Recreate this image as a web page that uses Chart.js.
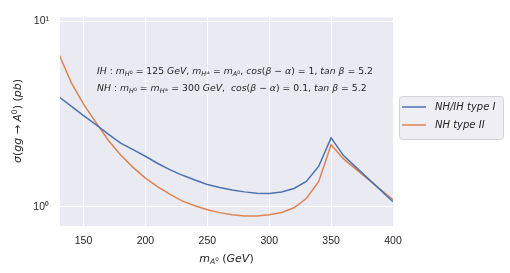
<!DOCTYPE html>
<html><head><meta charset="utf-8">
<script src="https://cdn.jsdelivr.net/npm/chart.js@4/dist/chart.umd.min.js"></script>
<style>html,body{margin:0;padding:0;background:#fff}#wrap{width:510px;height:273px}</style>
</head><body><div id="wrap"><canvas id="c" width="510" height="273"></canvas></div>
<script>
// ---- data ----
const massA  = [130,140,150,160,170,180,190,200,210,220,230,240,250,260,270,280,290,300,310,320,330,340,350,360,370,380,390,400];
const typeI  = [3.92,3.48,3.10,2.77,2.46,2.20,2.03,1.87,1.71,1.58,1.476,1.393,1.318,1.268,1.230,1.202,1.183,1.178,1.20,1.254,1.369,1.653,2.35,1.886,1.635,1.417,1.228,1.064];
const typeII = [6.67,4.68,3.57,2.85,2.28,1.90,1.63,1.425,1.28,1.164,1.072,1.012,0.964,0.929,0.906,0.891,0.891,0.904,0.931,0.987,1.107,1.369,2.16,1.81,1.595,1.405,1.238,1.09];
const seriesNames = ['NH/IH type I','NH type II'];
const xTicks = [150,200,250,300,350,400];
const yTicks = [1,10];
const yTickLabels = ['10\u2070','10\u00B9'];

const TXT = '#262626';
const MATH = '"DejaVu Sans"';

// rich text: segments [text, level]; 0 normal, 1 subscript, 2 sup on subscript, 3 superscript
function drawRich(ctx, segs, x, y, s, measureOnly){
  let cx = x;
  for (const [t, lvl] of segs){
    const size = [s, s*0.7, s*0.5, s*0.7][lvl];
    const dy = [0, s*0.22, -s*0.05, -s*0.38][lvl];
    let runs = []; let cur = ''; let curIt = null;
    for (const ch of t){
      const it = /[A-Za-z\u03B1-\u03C9]/.test(ch);
      if (curIt===null || it===curIt || ch===' '){ cur += ch; if(curIt===null && ch!==' ') curIt = it; }
      else { runs.push([cur, curIt]); cur = ch; curIt = it; }
    }
    if (cur) runs.push([cur, curIt]);
    for (const [r, it] of runs){
      ctx.font = (it ? 'italic ' : '') + size + 'px ' + MATH;
      if (!measureOnly) ctx.fillText(r, cx, y + dy);
      cx += ctx.measureText(r).width;
    }
  }
  return cx - x;
}

const line1 = [['IH : m',0],['H',1],['0',2],[' = 125 GeV, m',0],['H',1],['\u00B1',2],[' = m',0],['A',1],['0',2],[', cos(\u03B2 \u2212 \u03B1) = 1, tan \u03B2 = 5.2',0]];
const line2 = [['NH : m',0],['H',1],['0',2],[' = m',0],['H',1],['\u00B1',2],[' = 300 GeV,  cos(\u03B2 \u2212 \u03B1) = 0.1, tan \u03B2 = 5.2',0]];
const xTitle = [['m',0],['A',1],['0',2],[' (GeV)',0]];
const yTitle = [['\u03C3(gg \u2192 A',0],['0',3],[') (pb)',0]];

const decor = {
  id:'decor',
  beforeDraw(chart){
    const {ctx, chartArea:a} = chart;
    ctx.save();
    ctx.fillStyle = '#eaeaf2';
    ctx.fillRect(a.left, a.top, a.right-a.left, a.bottom-a.top);
    ctx.restore();
  },
  afterDraw(chart){
    const {ctx, chartArea:a} = chart;
    ctx.save();
    ctx.fillStyle = TXT;
    ctx.textBaseline = 'alphabetic';
    drawRich(ctx, line1, 97, 74, 9.3);
    drawRich(ctx, line2, 97, 91, 9.3);
    const wx = drawRich(ctx, xTitle, 0, 0, 11, true);
    drawRich(ctx, xTitle, (a.left+a.right)/2 - wx/2, 262, 11);
    const wy = drawRich(ctx, yTitle, 0, 0, 11, true);
    ctx.translate(21, 121);
    ctx.rotate(-Math.PI/2);
    drawRich(ctx, yTitle, -wy/2, 0, 11);
    ctx.restore();
    // legend
    ctx.save();
    const lx = 399.5, ly = 96.5, lw = 104, lh = 43, r = 3;
    ctx.beginPath();
    ctx.moveTo(lx+r, ly); ctx.lineTo(lx+lw-r, ly); ctx.quadraticCurveTo(lx+lw, ly, lx+lw, ly+r);
    ctx.lineTo(lx+lw, ly+lh-r); ctx.quadraticCurveTo(lx+lw, ly+lh, lx+lw-r, ly+lh);
    ctx.lineTo(lx+r, ly+lh); ctx.quadraticCurveTo(lx, ly+lh, lx, ly+lh-r);
    ctx.lineTo(lx, ly+r); ctx.quadraticCurveTo(lx, ly, lx+r, ly); ctx.closePath();
    ctx.fillStyle = '#eeeef4'; ctx.fill();
    ctx.strokeStyle = '#d4d4d8'; ctx.lineWidth = 1; ctx.stroke();
    chart.data.datasets.forEach((ds, i) => {
      const yy = 107 + i*18;
      ctx.strokeStyle = ds.borderColor; ctx.lineWidth = 1.5;
      ctx.beginPath(); ctx.moveTo(402, yy); ctx.lineTo(426, yy); ctx.stroke();
      ctx.fillStyle = TXT;
      ctx.font = 'italic 10px ' + MATH;
      ctx.textBaseline = 'middle';
      ctx.fillText(ds.label, 435, yy);
    });
    ctx.restore();
  }
};

const tickFont = {family:'"Liberation Sans", Arial, sans-serif', size:10.5};

new Chart(document.getElementById('c'), {
  type:'line',
  data:{
    datasets:[
      {label:seriesNames[0], data:massA.map((x,i)=>({x, y:typeI[i]})), borderColor:'#4c72b0', borderWidth:1.5, pointRadius:0, tension:0, fill:false, clip:0},
      {label:seriesNames[1], data:massA.map((x,i)=>({x, y:typeII[i]})), borderColor:'#dd8452', borderWidth:1.5, pointRadius:0, tension:0, fill:false, clip:0}
    ]
  },
  options:{
    responsive:false, animation:false, devicePixelRatio:1,
    layout:{padding:{top:10, right:117, left:0, bottom:0}},
    plugins:{legend:{display:false}, tooltip:{enabled:false}},
    scales:{
      x:{type:'linear', min:131, max:400,
        afterBuildTicks(s){ s.ticks = xTicks.map(v=>({value:v})); },
        afterFit(s){ s.height = 47; },
        grid:{color:'#ffffff', lineWidth:1, drawTicks:false},
        border:{display:false},
        ticks:{color:TXT, font:tickFont, padding:9, maxRotation:0, autoSkip:false}
      },
      y:{type:'logarithmic', min:0.787, max:10.49,
        afterBuildTicks(s){ s.ticks = yTicks.map(v=>({value:v})); },
        afterFit(s){ s.width = 60; },
        grid:{color:'#ffffff', lineWidth:1, drawTicks:false},
        border:{display:false},
        ticks:{color:TXT, font:tickFont, padding:11, autoSkip:false,
          callback:(v)=>{ const k = yTicks.indexOf(v); return k>=0 ? yTickLabels[k] : ''; }}
      }
    }
  },
  plugins:[decor]
});
</script></body></html>
